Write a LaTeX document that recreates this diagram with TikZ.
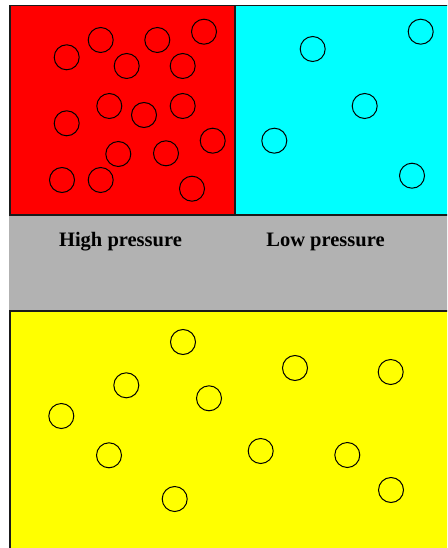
\documentclass[tikz,border=0pt]{standalone}
\usepackage{fontspec}
\setmainfont{Liberation Serif}
\usetikzlibrary{positioning}
\definecolor{chamberHigh}{HTML}{FF0000}
\definecolor{chamberLow}{HTML}{00FFFF}
\definecolor{chamberMixed}{HTML}{FFFF00}
\definecolor{wallGray}{HTML}{B2B2B2}
\definecolor{wallEdge}{HTML}{1A1A1A}
\tikzset{
  chamberWall/.style={
    draw=wallEdge,
    line width=1.8pt
  },
  molecule/.style={draw=black, line width=1pt},
  pressureLabel/.style={
    font=\bfseries\fontsize{20.5}{24}\selectfont,
    anchor=base,
    inner sep=0pt
  }
}

\begin{document}
\begin{tikzpicture}[x=1pt,y=-1pt]
  \clip (0,0) rectangle (447,548);
  % partition wall
  \fill[wallGray] (9,215) rectangle (460,311);
  \path[chamberWall, fill=chamberHigh] (10,5.5) rectangle (235,215);
  \path[chamberWall, fill=chamberLow] (235,5.5) rectangle (460,215);
  \path[chamberWall, fill=chamberMixed] (10,311) rectangle (460,560);
  % molecules
  \foreach \mx/\my in {66.7/57.3, 100.7/40, 157.3/40, 204/31.7, 126.7/66,
      182.7/66, 66.7/123.3, 109.3/106, 144/115, 182.7/106, 212.7/140.7,
      118.3/154, 166/153.3, 62/180, 100.7/180, 192/188.7}
    \draw[molecule] (\mx,\my) circle[radius=12.5pt];
  \foreach \mx/\my in {312.7/49, 420.7/31.7, 364.7/106, 274.3/140.7, 412/175.7}
    \draw[molecule] (\mx,\my) circle[radius=12.5pt];
  \foreach \mx/\my in {183/342, 295/368, 390.7/372, 126.3/385.3, 209/398.3,
      61.3/416, 109/455.3, 260.7/451, 347.3/455, 391/490, 174.7/499}
    \draw[molecule] (\mx,\my) circle[radius=12.5pt];
  % labels
  \node[pressureLabel] (high) at (120.5,246.7) {High pressure};
  \node[pressureLabel] (low) at (325.5,246.7) {Low pressure};
\end{tikzpicture}
\end{document}
